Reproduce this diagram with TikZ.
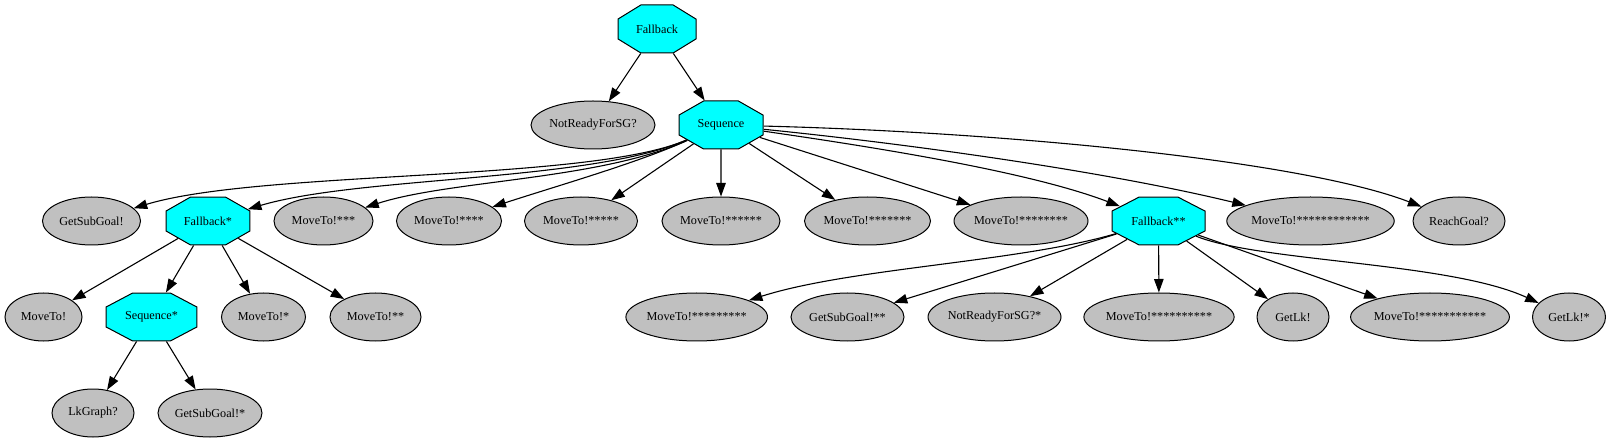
\documentclass[tikz,border=0pt]{standalone}
\usepackage{fontspec}
\setmainfont{Liberation Serif}
\usetikzlibrary{shapes.geometric,arrows.meta}
\definecolor{leafgray}{HTML}{C0C0C0}
\definecolor{ctrlcyan}{HTML}{00FFFF}
\begin{document}
\begin{tikzpicture}[x=1pt,y=-1pt,
  every node/.style={font=\fontsize{12.2}{14}\selectfont, inner sep=0pt},
  leaf/.style={ellipse, draw, line width=1pt, fill=leafgray, minimum height=48pt, minimum width=#1},
  oct/.style={regular polygon, regular polygon sides=8, minimum size=51.95pt, draw, line width=1pt, fill=ctrlcyan, transform shape, xscale=#1/48},
  edge/.style={line width=1.1pt, -{Triangle[length=13.5pt,width=9.5pt]}}
]
\fill[white] (0,0) rectangle (1608,443);
\useasboundingbox (0,0) rectangle (1608,443);
% row 0
\node[oct=78] (fb0) at (657,29) {\scalebox{0.6154}[1]{Fallback}};
% row 1
\node[leaf=124pt] (nr) at (593,125) {NotReadyForSG?};
\node[oct=84] (seq) at (721,125) {\scalebox{0.5714}[1]{Sequence}};
% row 2
\node[leaf=98pt] (gsg) at (91.5,221) {GetSubGoal!};
\node[oct=84] (fb1) at (208,221) {\scalebox{0.5714}[1]{Fallback*}};
\node[leaf=99pt] (m3) at (323.5,221) {MoveTo!***};
\node[leaf=105pt] (m4) at (449,221) {MoveTo!****};
\node[leaf=113pt] (m5) at (581,221) {MoveTo!*****};
\node[leaf=118pt] (m6) at (721,221) {MoveTo!******};
\node[leaf=126pt] (m7) at (867.5,221) {MoveTo!*******};
\node[leaf=134pt] (m8) at (1021,221) {MoveTo!********};
\node[oct=93] (fb2) at (1158.5,221) {\scalebox{0.5161}[1]{Fallback**}};
\node[leaf=161pt] (m12) at (1310.5,221) {MoveTo!************};
\node[leaf=92pt] (rg) at (1459,221) {ReachGoal?};
% row 3
\node[leaf=77pt] (m0) at (43.5,317) {MoveTo!};
\node[oct=91] (seq1) at (151.5,317) {\scalebox{0.5275}[1]{Sequence*}};
\node[leaf=84pt] (m1) at (263.5,317) {MoveTo!*};
\node[leaf=91pt] (m2) at (375.5,317) {MoveTo!**};
\node[leaf=140pt] (m9) at (696.7,317) {MoveTo!*********};
\node[leaf=113pt] (gsg2) at (847.5,317) {GetSubGoal!**};
\node[leaf=133pt] (nr2) at (994.5,317) {NotReadyForSG?*};
\node[leaf=146pt] (m10) at (1159,317) {MoveTo!**********};
\node[leaf=72pt] (gl) at (1293,317) {GetLk!};
\node[leaf=156pt] (m11) at (1430,317) {MoveTo!***********};
\node[leaf=73pt] (gl2) at (1569,317) {GetLk!*};
% row 4
\node[leaf=82pt] (lk) at (93,413) {LkGraph?};
\node[leaf=104pt] (gsg1) at (210,413) {GetSubGoal!*};
% edges
\draw[edge] (fb0) -- (nr);
\draw[edge] (fb0) -- (seq);
\draw[edge] (seq) .. controls (590,182) and (260,170) .. (gsg);
\draw[edge] (seq) .. controls (590,182) and (360,176) .. (fb1);
\draw[edge] (seq) .. controls (600,180) and (450,180) .. (m3);
\draw[edge] (seq) .. controls (640,162) and (560,185) .. (m4);
\draw[edge] (seq) -- (m5);
\draw[edge] (seq) -- (m6);
\draw[edge] (seq) -- (m7);
\draw[edge] (seq) -- (m8);
\draw[edge] (seq) .. controls (880,148) and (1030,172) .. (fb2);
\draw[edge] (seq) .. controls (900,143) and (1100,170) .. (m12);
\draw[edge] (seq) .. controls (1000,132) and (1300,160) .. (rg);
\draw[edge] (fb1) -- (m0);
\draw[edge] (fb1) -- (seq1);
\draw[edge] (fb1) -- (m1);
\draw[edge] (fb1) -- (m2);
\draw[edge] (seq1) -- (lk);
\draw[edge] (seq1) -- (gsg1);
\draw[edge] (fb2) .. controls (1020,262) and (850,268) .. (m9);
\draw[edge] (fb2) -- (gsg2);
\draw[edge] (fb2) -- (nr2);
\draw[edge] (fb2) -- (m10);
\draw[edge] (fb2) -- (gl);
\draw[edge] (fb2) -- (m11);
\draw[edge] (fb2) .. controls (1260,262) and (1450,262) .. (gl2);
\end{tikzpicture}
\end{document}
